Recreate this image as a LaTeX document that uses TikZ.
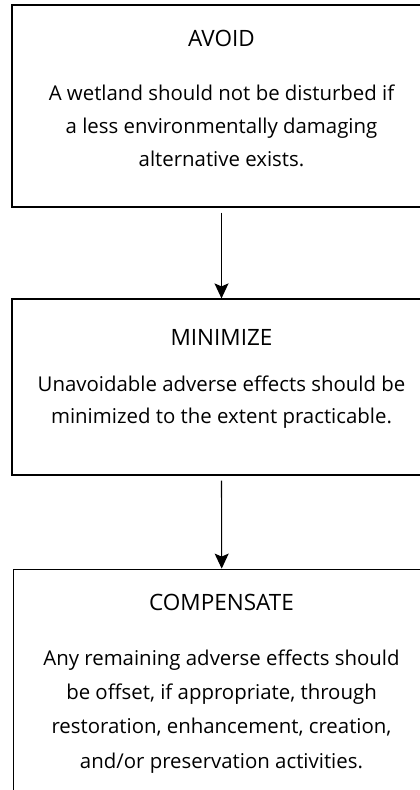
\documentclass[tikz,border=0pt]{standalone}
\usepackage{fontspec}
\setmainfont{Open Sans}[Ligatures=NoCommon]
\usetikzlibrary{arrows.meta}
\begin{document}
\begin{tikzpicture}[x=1pt,y=-1pt,
  stagebox/.style={draw=black,line width=1.2pt,rectangle,inner sep=0pt},
  titletext/.style={anchor=base,inner sep=0pt,font=\fontsize{22.5}{33}\selectfont},
  bodytext/.style={anchor=base,inner sep=0pt,align=center,font=\fontsize{20.4}{33}\selectfont},
  flow/.style={line width=1.1pt,-{Stealth[length=15pt,width=14pt,inset=3pt]},shorten <=5pt}]
\useasboundingbox (0,0) rectangle (420,790);
\clip (0,0) rectangle (420,790);
\node[stagebox,minimum width=419pt,minimum height=202pt] (b1) at (221.5,106) {};
\node[stagebox,minimum width=419pt,minimum height=176pt] (b2) at (221.5,387) {};
\node[stagebox,minimum width=417pt,minimum height=231pt] (b3) at (221.7,684.7) {};
\node[titletext] (t1) at (221.5,46) {AVOID};
\node[bodytext] (d1) at (221.5,166.7) {A wetland should not be disturbed if\\a less environmentally damaging\\alternative exists.};
\node[titletext] (t2) at (221.5,345.7) {MINIMIZE};
\node[bodytext,font=\fontsize{20.4}{31.6}\selectfont] (d2) at (221.5,423.3) {Unavoidable adverse effects should be\\minimized to the extent practicable.};
\node[titletext] (t3) at (221.5,610) {COMPENSATE};
\node[bodytext,font=\fontsize{20.4}{34.4}\selectfont] (d3) at (221.5,768.3) {Any remaining adverse effects should\\be offset, if appropriate, through\\restoration, enhancement, creation,\\and/or preservation activities.};
\draw[flow] (b1.south) -- (b2.north);
\draw[flow] (b2.south) -- (b3.north);
\end{tikzpicture}
\end{document}
